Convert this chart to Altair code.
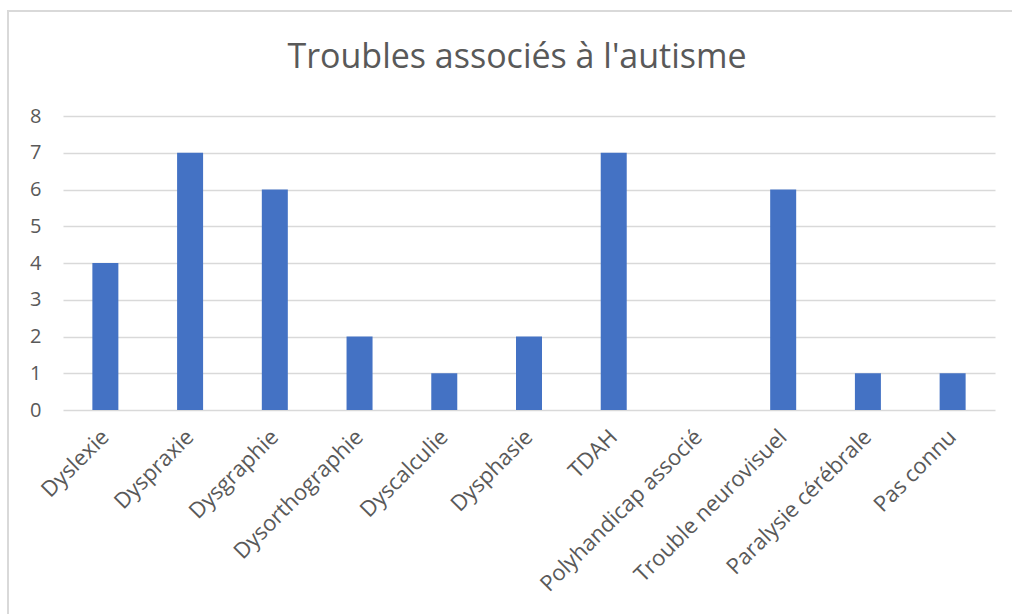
import altair as alt
import pandas as pd

categories = [
    "Dyslexie", "Dyspraxie", "Dysgraphie", "Dysorthographie", "Dyscalculie",
    "Dysphasie", "TDAH", "Polyhandicap associé", "Trouble neurovisuel",
    "Paralysie cérébrale", "Pas connu",
]
counts = [4, 7, 6, 2, 1, 2, 7, 0, 6, 1, 1]
y_ticks = [0, 1, 2, 3, 4, 5, 6, 7, 8]
title_text = "Troubles associés à l'autisme"

df = pd.DataFrame({"trouble": categories, "n": counts})

FONT = "Open Sans"
GREY = "#595959"
GRID = "#d9d9d9"

bars = alt.Chart(df).mark_bar(size=26, color="#4472C4").encode(
    x=alt.X(
        "trouble:N",
        sort=categories,
        title=None,
        scale=alt.Scale(paddingInner=0, paddingOuter=0),
        axis=alt.Axis(
            labelAngle=-45,
            labelAlign="right",
            labelBaseline="middle",
            labelPadding=23,
            labelFontSize=22,
            labelLimit=400,
            labelColor=GREY,
            labelFont=FONT,
            ticks=False,
            domain=False,
            grid=False,
        ),
    ),
    y=alt.Y(
        "n:Q",
        title=None,
        scale=alt.Scale(domain=[0, 8], nice=False),
        axis=alt.Axis(
            values=y_ticks,
            labelFontSize=20,
            labelColor=GREY,
            labelFont=FONT,
            labelPadding=22,
            ticks=False,
            domain=False,
            grid=True,
            gridColor=GRID,
            gridWidth=1.5,
        ),
    ),
)

# light frame around the whole chart area
frame = alt.Chart(df).mark_rect(
    fill=None, stroke=GRID, strokeWidth=1.5, clip=False
).encode(
    x=alt.value(-55),
    x2=alt.value(1100),
    y=alt.value(-105),
    y2=alt.value(700),
)

title = alt.Chart(pd.DataFrame({"t": [title_text]})).mark_text(
    font=FONT, fontSize=34, color=GREY, align="center", baseline="alphabetic"
).encode(
    text="t:N",
    x=alt.value(454),
    y=alt.value(-48),
)

chart = alt.layer(frame, bars, title).properties(
    width=932,
    height=294,
    background="white",
    autosize=alt.AutoSizeParams(type="none"),
    padding={"left": 63, "top": 116, "right": 17, "bottom": 204},
).configure_view(stroke=None, strokeWidth=0)

chart.save("out.html", embed_options={"renderer": "svg", "actions": False})
